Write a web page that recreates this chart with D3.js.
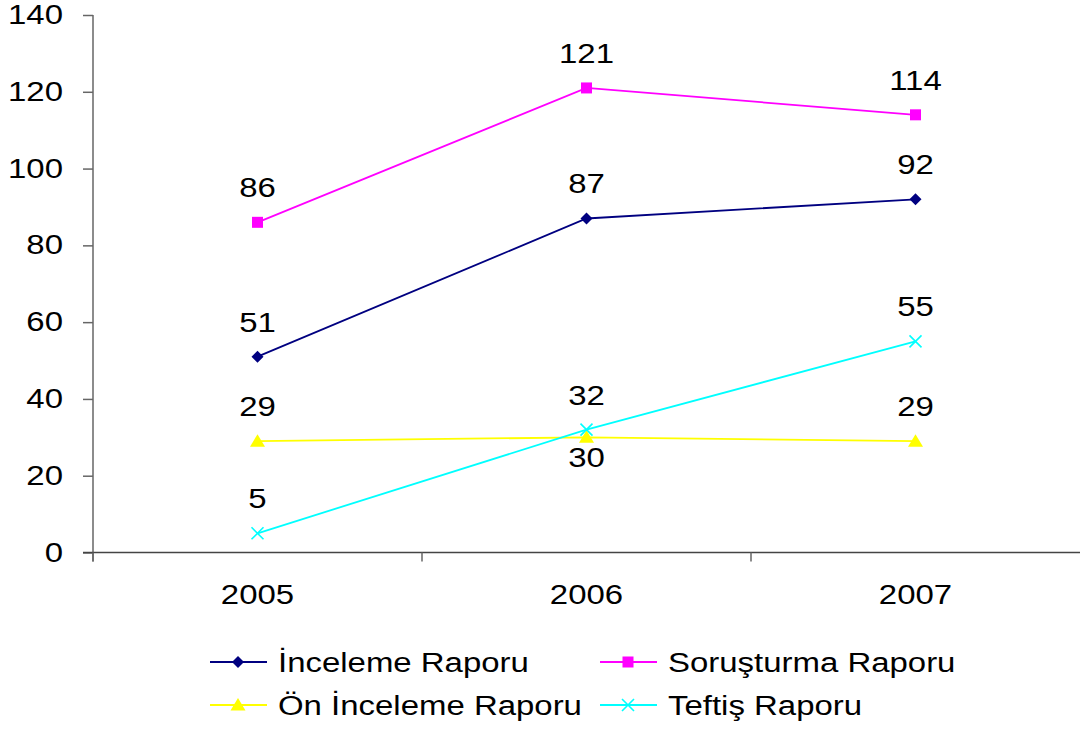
<!DOCTYPE html>
<html>
<head>
<meta charset="utf-8">
<script src="https://cdn.jsdelivr.net/npm/d3@7"></script>
<style>
  body { margin: 0; background: #fff; }
  text { font-family: "Liberation Sans", Arial, sans-serif; fill: #000; }
</style>
</head>
<body>
<div id="chart"></div>
<script>
// data
const years = ["2005", "2006", "2007"]
const yTicks = [0, 20, 40, 60, 80, 100, 120, 140]
const inceleme = [51, 87, 92]
const sorusturma = [86, 121, 114]
const onInceleme = [29, 30, 29]
const teftis = [5, 32, 55]

const seriesNames = ["İnceleme Raporu", "Soruşturma Raporu", "Ön İnceleme Raporu", "Teftiş Raporu"]
const seriesColors = ["#000080", "#ff00ff", "#ffff00", "#00ffff"]
const seriesShapes = ["diamond", "square", "triangle", "cross"]
const seriesValues = [inceleme, sorusturma, onInceleme, teftis]
// label below the point for these (series, index)
const labelBelow = [[2, 1]]

const width = 1080, height = 729
const margin = { top: 15, right: 0, bottom: 176, left: 93 }
const fontSize = "27px"
const stretch = 1.22

// the original text is a bit wider than Liberation Sans
function widen(sel) {
  sel.style("font-size", fontSize)
    .each(function () {
      const w = this.getComputedTextLength()
      d3.select(this).attr("textLength", w * stretch).attr("lengthAdjust", "spacingAndGlyphs")
    })
}

const svg = d3.select("#chart").append("svg")
  .attr("width", width)
  .attr("height", height)

const x = d3.scaleBand()
  .domain(years)
  .range([margin.left, width - margin.right])

const y = d3.scaleLinear()
  .domain([0, 140])
  .range([height - margin.bottom - 0.5, margin.top])

// y axis
const yAxis = svg.append("g")
  .attr("transform", "translate(" + margin.left + ",0)")
  .call(d3.axisLeft(y).tickValues(yTicks).tickSize(10).tickPadding(20))
yAxis.selectAll("path, line").attr("stroke", "#666").attr("stroke-width", 1.5)
yAxis.selectAll("text").call(widen)
yAxis.select(".domain").attr("d", "M0," + y(140) + "V" + (y(0) + 9))

// x axis
const xAxis = svg.append("g")
  .attr("transform", "translate(0," + y(0) + ")")
  .call(d3.axisBottom(x).tickSizeOuter(0).tickSize(0).tickPadding(32))
xAxis.select(".domain").attr("stroke", "#444").attr("stroke-width", 1.5)
  .attr("d", "M" + (margin.left - 10) + ",0H" + width)
xAxis.selectAll("text").call(widen)

// category separators on x axis
svg.append("g").selectAll("line")
  .data(years)
  .enter().append("line")
  .attr("x1", d => x(d))
  .attr("x2", d => x(d))
  .attr("y1", y(0))
  .attr("y2", y(0) + 9)
  .attr("stroke", "#666")
  .attr("stroke-width", 1.5)

function marker(g, shape, color) {
  if (shape === "diamond") {
    g.append("path").attr("d", "M0,-6L6,0L0,6L-6,0Z").attr("fill", color)
  } else if (shape === "square") {
    g.append("rect").attr("x", -5.5).attr("y", -5.5).attr("width", 11).attr("height", 11).attr("fill", color)
  } else if (shape === "triangle") {
    g.append("path").attr("d", "M0,-7L7.5,5.5L-7.5,5.5Z").attr("fill", color)
  } else {
    g.append("path").attr("d", "M-6,-6L6,6M-6,6L6,-6").attr("stroke", color).attr("stroke-width", 1.6).attr("fill", "none")
  }
}

const line = d3.line()
  .x((d, i) => x(years[i]) + x.bandwidth() / 2)
  .y(d => y(d))

seriesValues.forEach((vals, s) => {
  svg.append("path")
    .datum(vals)
    .attr("d", line)
    .attr("fill", "none")
    .attr("stroke", seriesColors[s])
    .attr("stroke-width", 1.8)

  vals.forEach((v, i) => {
    const g = svg.append("g")
      .attr("transform", "translate(" + (x(years[i]) + x.bandwidth() / 2) + "," + y(v) + ")")
    marker(g, seriesShapes[s], seriesColors[s])
  })

  svg.selectAll(".lbl" + s)
    .data(vals)
    .enter().append("text")
    .attr("x", (d, i) => x(years[i]) + x.bandwidth() / 2)
    .attr("y", (d, i) => {
      const below = labelBelow.some(p => p[0] === s && p[1] === i)
      return below ? y(d) + 30 : y(d) - 25
    })
    .attr("text-anchor", "middle")
    .text(d => d)
    .call(widen)
})

// legend
const legendPos = [[210, 662], [600, 662], [210, 705], [600, 705]]
seriesNames.forEach((name, s) => {
  const lg = svg.append("g")
    .attr("transform", "translate(" + legendPos[s][0] + "," + legendPos[s][1] + ")")
  lg.append("line")
    .attr("x1", 0).attr("x2", 57)
    .attr("stroke", seriesColors[s]).attr("stroke-width", 1.8)
  const m = lg.append("g").attr("transform", "translate(28,0)")
  marker(m, seriesShapes[s], seriesColors[s])
  lg.append("text")
    .attr("x", 68)
    .attr("y", 10)
    .text(name)
    .call(widen)
})
</script>
</body>
</html>
